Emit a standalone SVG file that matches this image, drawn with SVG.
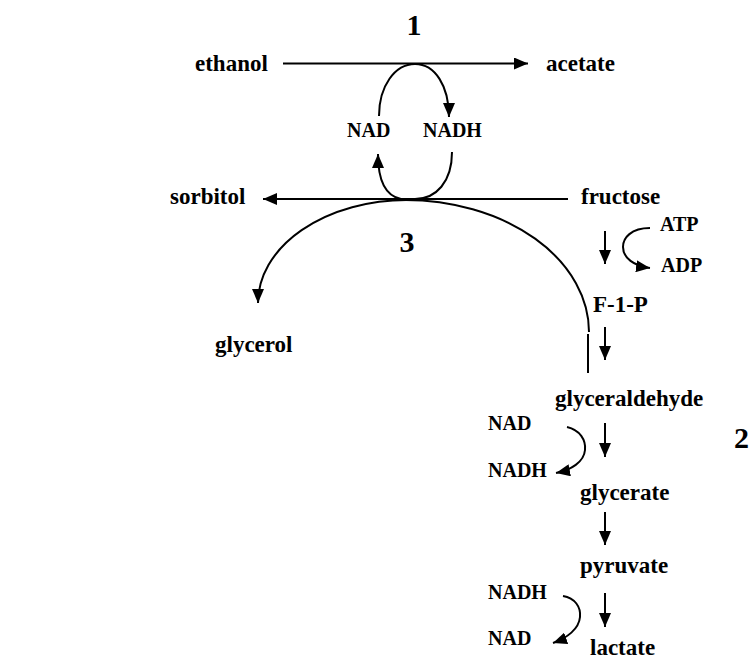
<svg xmlns="http://www.w3.org/2000/svg" width="750" height="660" viewBox="0 0 750 660">
  <style>
    text { font-family: "Liberation Serif", "Times New Roman", serif; font-weight: bold; fill: #000; }
    .m { font-size: 23px; }
    .c { font-size: 20px; }
    .n { font-size: 30px; }
    .ln { fill: none; stroke: #000; stroke-width: 2; }
  </style>
  <defs>
    <marker id="ah" viewBox="0 0 14 12" refX="14" refY="6" markerWidth="14" markerHeight="12" markerUnits="userSpaceOnUse" orient="auto">
      <path d="M0,0 L14,6 L0,12 Z" fill="#000"/>
    </marker>
  </defs>
  <rect width="750" height="660" fill="#fff"/>

  <!-- connectors -->
  <g id="connectors" class="ln">
    <!-- ethanol -> acetate with NAD/NADH loop -->
    <line x1="283" y1="63.5" x2="528" y2="63.5" marker-end="url(#ah)"/>
    <path d="M379,116 C379,86 395,64 415,64 C435,64 449,86 449,117" marker-end="url(#ah)"/>
    <!-- fructose -> sorbitol with NADH/NAD loop -->
    <line x1="568" y1="199" x2="263" y2="199" marker-end="url(#ah)"/>
    <path d="M452,152 C452,182 436,199 415,199"/>
    <path d="M401,199 C386,196 378,182 378,154" marker-end="url(#ah)"/>
    <!-- reaction 3 arc to glycerol -->
    <path d="M405,200 A184,132 0 0 1 589,332"/>
    <path d="M407,200 A149,103 0 0 0 258,303" marker-end="url(#ah)"/>
    <line x1="588" y1="334" x2="588" y2="373"/>
    <!-- fructose pathway -->
    <line x1="605" y1="231" x2="605" y2="264" marker-end="url(#ah)"/>
    <path d="M650,228 C631,228 623,238 623,247 C623,258 634,266 650,268" marker-end="url(#ah)"/>
    <line x1="605" y1="327" x2="605" y2="360" marker-end="url(#ah)"/>
    <line x1="605" y1="423" x2="605" y2="457" marker-end="url(#ah)"/>
    <path d="M567,427 C580,430 586,440 585,450 C584,462 571,470 556,473" marker-end="url(#ah)"/>
    <line x1="605" y1="512" x2="605" y2="545" marker-end="url(#ah)"/>
    <line x1="605" y1="593" x2="605" y2="627" marker-end="url(#ah)"/>
    <path d="M563,596 C575,598 581,607 580,617 C579,629 567,638 553,643" marker-end="url(#ah)"/>
  </g>

  <!-- reaction numbers -->
  <g id="label-1"><text class="n" x="414" y="35" text-anchor="middle">1</text></g>
  <g id="label-2"><text class="n" x="734" y="448">2</text></g>
  <g id="label-3"><text class="n" x="407" y="252" text-anchor="middle">3</text></g>

  <!-- metabolites -->
  <g id="ethanol"><text class="m" x="195" y="71">ethanol</text></g>
  <g id="acetate"><text class="m" x="546" y="71">acetate</text></g>
  <g id="nad-1"><text class="c" x="347" y="137">NAD</text></g>
  <g id="nadh-1"><text class="c" x="423" y="137">NADH</text></g>
  <g id="sorbitol"><text class="m" x="170" y="204">sorbitol</text></g>
  <g id="fructose"><text class="m" x="581" y="204">fructose</text></g>
  <g id="glycerol"><text class="m" x="215" y="352">glycerol</text></g>
  <g id="atp"><text class="c" x="660" y="231">ATP</text></g>
  <g id="adp"><text class="c" x="661" y="272">ADP</text></g>
  <g id="f1p"><text class="m" x="593" y="312">F-1-P</text></g>
  <g id="glyceraldehyde"><text class="m" x="555" y="406">glyceraldehyde</text></g>
  <g id="nad-2"><text class="c" x="488" y="430">NAD</text></g>
  <g id="nadh-2"><text class="c" x="488" y="477">NADH</text></g>
  <g id="glycerate"><text class="m" x="580" y="500">glycerate</text></g>
  <g id="pyruvate"><text class="m" x="580" y="573">pyruvate</text></g>
  <g id="nadh-3"><text class="c" x="488" y="599">NADH</text></g>
  <g id="nad-3"><text class="c" x="488" y="645">NAD</text></g>
  <g id="lactate"><text class="m" x="590" y="655">lactate</text></g>
</svg>
